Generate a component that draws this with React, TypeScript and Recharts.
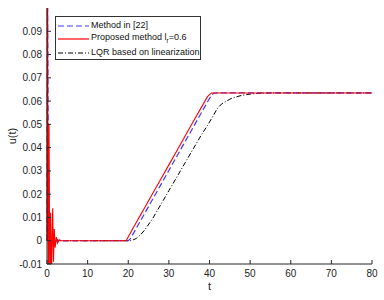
import React from "react";
import {
  LineChart, Line, XAxis, YAxis, Label,
} from "recharts";

// time grid (s) and the three control signals u(t)
const tValues = [
  0, 0.1, 0.3, 0.5, 0.7, 0.9, 1.1, 1.4, 1.6, 1.8, 2.0, 2.3, 2.6, 3.0, 3.5, 5, 10, 15,
  19, 19.5, 20, 20.5, 21, 22, 23, 24, 26, 28, 30, 32, 34, 36, 38, 39.5, 40, 40.5, 41,
  42, 43, 44, 45, 46, 48, 50, 52, 55, 60, 70, 80,
];

const proposed = [
  0, 0.15, -0.03, 0.05, -0.025, 0.012, -0.015, 0.014, -0.009, 0.005, -0.003, 0.0015, -0.001, 0.0004, 0, 0, 0, 0,
  0, 0, 0.0017, 0.0032, 0.0048, 0.0079, 0.011, 0.0141, 0.0203, 0.0264, 0.0326, 0.0388, 0.045, 0.0512, 0.0573, 0.0619, 0.0628, 0.0635, 0.0635,
  0.0635, 0.0635, 0.0635, 0.0635, 0.0635, 0.0635, 0.0635, 0.0635, 0.0635, 0.0635, 0.0635, 0.0635,
];

const method22 = [
  0, 0.12, 0.04, 0.02, 0.005, -0.007, -0.004, 0.004, 0.002, -0.002, -0.001, 0.001, 0, 0, 0, 0, 0, 0,
  0, 0, 0, 0.0008, 0.0023, 0.0054, 0.0085, 0.0116, 0.0178, 0.024, 0.0302, 0.0364, 0.0426, 0.0488, 0.055, 0.0596, 0.0611, 0.0625, 0.0633,
  0.0635, 0.0635, 0.0635, 0.0635, 0.0635, 0.0635, 0.0635, 0.0635, 0.0635, 0.0635, 0.0635, 0.0635,
];

const lqr = [
  0, 0.001, 0.002, 0.002, 0.0005, -0.001, -0.002, 0.0005, 0.0015, 0, -0.001, 0, 0.0005, 0, 0, 0, 0, 0,
  0, 0, 0, 0, 0.0002, 0.001, 0.0025, 0.0045, 0.0095, 0.0155, 0.0215, 0.0275, 0.0335, 0.0395, 0.0455, 0.0495, 0.051, 0.0525, 0.054,
  0.057, 0.0588, 0.0598, 0.0608, 0.0615, 0.0625, 0.063, 0.0633, 0.0635, 0.0635, 0.0635, 0.0635,
];

const xTicks = [0, 10, 20, 30, 40, 50, 60, 70, 80];
const yTicks = [-0.01, 0, 0.01, 0.02, 0.03, 0.04, 0.05, 0.06, 0.07, 0.08, 0.09];

const data = tValues.map((t, i) => ({
  t,
  method22: method22[i],
  proposed: proposed[i],
  lqr: lqr[i],
}));

const font = "'Liberation Sans', Arial, sans-serif";
const axisColor = "#262626";
const tickStyle = { fontSize: 10, fill: "#222", fontFamily: font };

const fmtY = (v: number) => (v === 0 ? "0" : v.toFixed(2));
const blank = () => "";

function LegendBox() {
  const rows = [
    { label: <>Method in [22]</>, color: "#3a3aff", dash: "6 3" },
    { label: <>Proposed method l<sub style={{ fontSize: 6.5 }}>r</sub>=0.6</>, color: "#ff0000", dash: undefined },
    { label: <>LQR based on linearization</>, color: "#000", dash: "5 2 1 2" },
  ];
  return (
    <div
      style={{
        position: "absolute",
        left: 55,
        top: 16,
        width: 144,
        height: 42,
        boxSizing: "content-box",
        border: "1px solid #333",
        background: "#fff",
        padding: "0px",
        fontFamily: font,
        fontSize: 9,
        color: "#111",
      }}
    >
      <div style={{ paddingTop: 2 }}>
        {rows.map((r, i) => (
          <div key={i} style={{ display: "flex", alignItems: "center", whiteSpace: "nowrap", height: 13.5, lineHeight: "13.5px" }}>
            <svg width={34} height={10} style={{ marginRight: 1 }}>
              <line x1={2} y1={5} x2={33} y2={5} stroke={r.color} strokeWidth={1.2} strokeDasharray={r.dash} />
            </svg>
            <span>{r.label}</span>
          </div>
        ))}
      </div>
    </div>
  );
}

export default function App() {
  return (
    <div style={{ position: "absolute", left: 0, top: 0, width: 384, height: 300, background: "#fff" }}>
      <LineChart
        width={384}
        height={300}
        data={data}
        margin={{ top: 8, right: 12, bottom: 0, left: 0 }}
      >
        <XAxis
          dataKey="t"
          type="number"
          domain={[0, 80]}
          ticks={xTicks}
          tickSize={-4}
          tickMargin={10}
          tick={tickStyle}
          stroke={axisColor}
          height={36}
        >
          <Label value="t" position="bottom" offset={-18} style={{ fontSize: 11, fill: "#222", fontFamily: font }} />
        </XAxis>
        <XAxis
          xAxisId="top"
          dataKey="t"
          type="number"
          orientation="top"
          domain={[0, 80]}
          ticks={xTicks}
          tickSize={-4}
          tickFormatter={blank}
          stroke={axisColor}
          height={0}
        />
        <YAxis
          type="number"
          domain={[-0.01, 0.1]}
          allowDataOverflow
          ticks={yTicks}
          tickFormatter={fmtY}
          tickSize={-4}
          tickMargin={9}
          tick={tickStyle}
          stroke={axisColor}
          width={47}
        >
          <Label
            value="u(t)"
            angle={-90}
            position="insideLeft"
            offset={12}
            style={{ fontSize: 11, fill: "#222", fontFamily: font, textAnchor: "middle" }}
          />
        </YAxis>
        <YAxis
          yAxisId="right"
          orientation="right"
          type="number"
          domain={[-0.01, 0.1]}
          ticks={yTicks}
          tickSize={-4}
          tickFormatter={blank}
          stroke={axisColor}
          width={0}
        />
        <Line
          dataKey="lqr"
          stroke="#000"
          strokeWidth={1}
          strokeDasharray="5 2 1 2"
          dot={false}
          isAnimationActive={false}
        />
        <Line
          dataKey="method22"
          stroke="#3a3aff"
          strokeWidth={1.2}
          strokeDasharray="6 3"
          dot={false}
          isAnimationActive={false}
        />
        <Line
          dataKey="proposed"
          stroke="#ff0000"
          strokeWidth={1.1}
          dot={false}
          isAnimationActive={false}
        />
      </LineChart>
      <LegendBox />
    </div>
  );
}
